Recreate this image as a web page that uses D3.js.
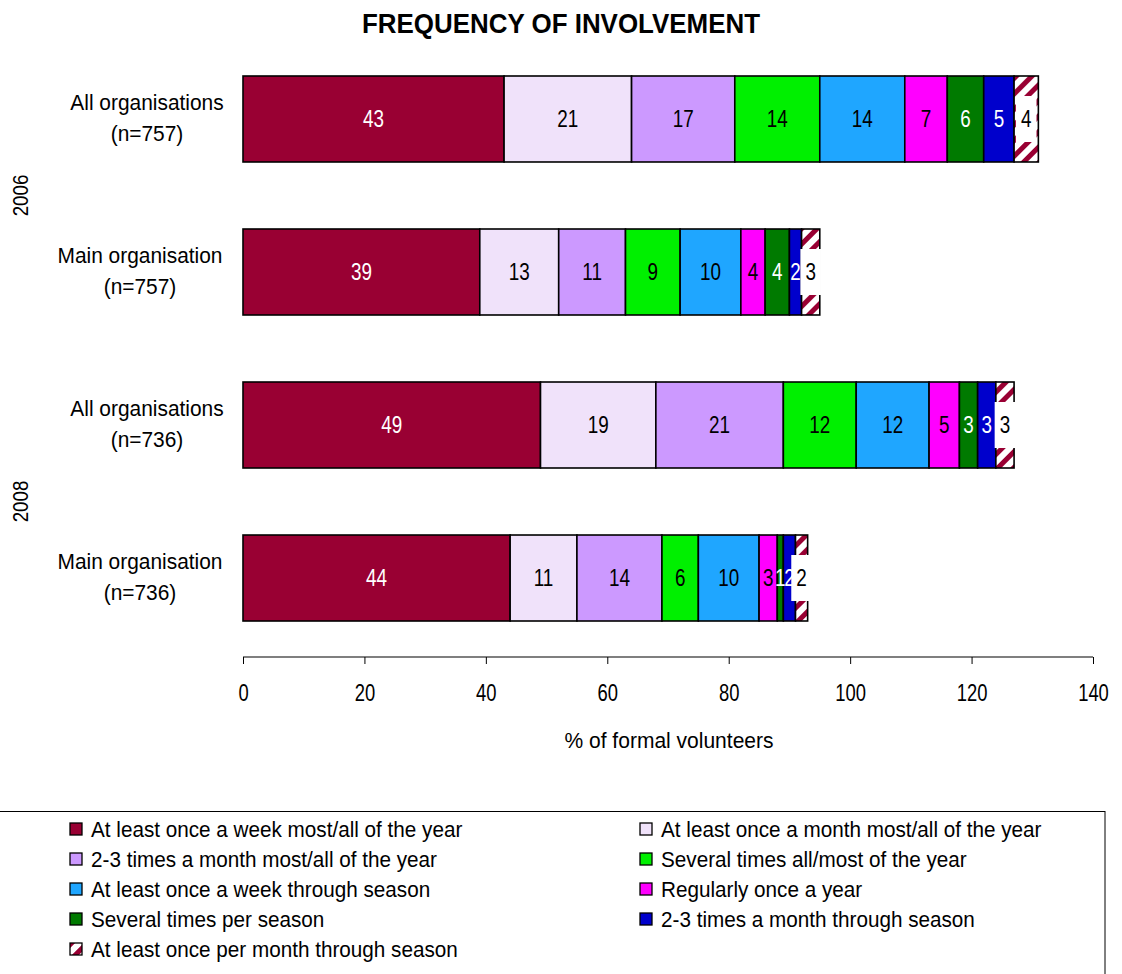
<!DOCTYPE html>
<html>
<head>
<meta charset="utf-8">
<script src="https://cdn.jsdelivr.net/npm/d3@7"></script>
<style>
  html, body { margin: 0; padding: 0; background: #fff; }
  svg { display: block; }
  text { font-family: "Liberation Sans", Arial, sans-serif; }
</style>
</head>
<body>
<svg id="chart" width="1122" height="974"></svg>
<script>
// Frequency of involvement in formal volunteering, stacked by category
const rows = ["r1", "r2", "r3", "r4"];
const rowLabels = [
  ["All organisations", "(n=757)"],
  ["Main organisation", "(n=757)"],
  ["All organisations", "(n=736)"],
  ["Main organisation", "(n=736)"]
];
const years = ["2006", "2008"];
const yearRows = [["r1", "r2"], ["r3", "r4"]];

const seriesNames = [
  "At least once a week most/all of the year",
  "At least once a month most/all of the year",
  "2-3 times a month most/all of the year",
  "Several times all/most of the year",
  "At least once a week through season",
  "Regularly once a year",
  "Several times per season",
  "2-3 times a month through season",
  "At least once per month through season"
];
const seriesColors = ["#990033", "#F0E2FA", "#CC99FF", "#00F000", "#1FA6FF", "#FF00FF", "#007A00", "#0000CC", "url(#hatch)"];
const labelColors = ["#fff", "#000", "#000", "#000", "#000", "#000", "#fff", "#fff", "#000"];

// values per series, one entry per row (r1..r4)
const s1 = [43, 39, 49, 44];
const s2 = [21, 13, 19, 11];
const s3 = [17, 11, 21, 14];
const s4 = [14, 9, 12, 6];
const s5 = [14, 10, 12, 10];
const s6 = [7, 4, 5, 3];
const s7 = [6, 4, 3, 1];
const s8 = [5, 2, 3, 2];
const s9 = [4, 3, 3, 2];
const seriesValues = [s1, s2, s3, s4, s5, s6, s7, s8, s9];

const xTicks = [0, 20, 40, 60, 80, 100, 120, 140];

const svg = d3.select("#chart");

// squeeze a text horizontally to mimic a narrow typeface
function narrow(sel, f) {
  sel.each(function () {
    const n = this.getComputedTextLength();
    if (n > 0) d3.select(this).attr("textLength", n * f).attr("lengthAdjust", "spacingAndGlyphs");
  });
}

// hatch pattern for the last series
const defs = svg.append("defs");
const pat = defs.append("pattern")
  .attr("id", "hatch")
  .attr("patternUnits", "userSpaceOnUse")
  .attr("width", 11).attr("height", 11)
  .attr("patternTransform", "rotate(45)");
pat.append("rect").attr("width", 11).attr("height", 11).attr("fill", "#fff");
pat.append("rect").attr("width", 5).attr("height", 11).attr("fill", "#990033");

const x = d3.scaleLinear().domain([0, 140]).range([243, 1093]);
const y = d3.scaleBand().domain(rows).range([76, 621]).paddingInner(0.438).paddingOuter(0);

// stacked data
const table = rows.map((r, i) => {
  const o = { row: r };
  seriesNames.forEach((s, k) => { o[s] = seriesValues[k][i]; });
  return o;
});
const stacked = d3.stack().keys(seriesNames)(table);

// title
svg.append("text")
  .attr("x", 561).attr("y", 33)
  .attr("text-anchor", "middle")
  .attr("font-size", 27).attr("font-weight", "bold")
  .text("FREQUENCY OF INVOLVEMENT")
  .call(narrow, 0.96);

// bars
const g = svg.append("g");
stacked.forEach((layer, k) => {
  g.selectAll(null).data(layer).enter().append("rect")
    .attr("x", d => x(d[0]))
    .attr("y", d => y(d.data.row))
    .attr("width", d => x(d[1]) - x(d[0]))
    .attr("height", y.bandwidth())
    .attr("fill", seriesColors[k])
    .attr("stroke", "#000").attr("stroke-width", 1.6);
});

// value labels
stacked.forEach((layer, k) => {
  layer.forEach(d => {
    const v = d[1] - d[0];
    const cx = (x(d[0]) + x(d[1])) / 2;
    const cy = y(d.data.row) + y.bandwidth() / 2;
    const t = g.append("text")
      .attr("x", cx).attr("y", cy + 8)
      .attr("text-anchor", "middle")
      .attr("font-size", 23)
      .attr("fill", labelColors[k])
      .text(v)
      .call(narrow, 0.82);
    if (k === seriesNames.length - 1) {
      const w = t.node().getComputedTextLength() * 0.82 + 12;
      g.insert("rect", function () { return t.node(); })
        .attr("x", cx - w / 2).attr("y", cy - 23)
        .attr("width", w).attr("height", 46)
        .attr("fill", "#fff");
    }
  });
});

// category labels
rows.forEach((r, i) => {
  const cy = y(r) + y.bandwidth() / 2;
  const cxLab = i % 2 === 0 ? 147 : 140;
  [0, 1].forEach(j => {
    svg.append("text")
      .attr("x", cxLab).attr("y", j === 0 ? cy - 9 : cy + 22)
      .attr("text-anchor", "middle")
      .attr("font-size", 22)
      .text(rowLabels[i][j])
      .call(narrow, 0.95);
  });
});

// year group labels
years.forEach((yr, i) => {
  const a = y(yearRows[i][0]), b = y(yearRows[i][1]) + y.bandwidth();
  const cy = (a + b) / 2;
  svg.append("text")
    .attr("transform", `translate(28,${cy}) rotate(-90)`)
    .attr("text-anchor", "middle")
    .attr("font-size", 22)
    .text(yr)
    .call(narrow, 0.85);
});

// x axis
const axis = svg.append("g")
  .attr("transform", "translate(0,657)")
  .call(d3.axisBottom(x).tickValues(xTicks).tickSize(7));
axis.select(".domain").attr("stroke", "#000").attr("stroke-width", 1.2).attr("d", `M${x(0)},0H${x(140)}`);
axis.selectAll(".tick line").attr("stroke", "#000").attr("stroke-width", 1);
axis.selectAll(".tick text")
  .attr("y", 44).attr("dy", null)
  .attr("font-size", 23)
  .attr("font-family", "Liberation Sans, Arial, sans-serif")
  .attr("fill", "#000")
  .call(narrow, 0.8);

svg.append("text")
  .attr("x", 669).attr("y", 748)
  .attr("text-anchor", "middle")
  .attr("font-size", 22)
  .text("% of formal volunteers")
  .call(narrow, 0.955);

// legend
svg.append("rect")
  .attr("x", -2).attr("y", 811.5)
  .attr("width", 1107).attr("height", 200)
  .attr("fill", "none").attr("stroke", "#000").attr("stroke-width", 1);

const legend = svg.append("g");
seriesNames.forEach((name, k) => {
  const col = k % 2, row = Math.floor(k / 2);
  const lx = col === 0 ? 70 : 640;
  const ly = 829 + row * 30;
  legend.append("rect")
    .attr("x", lx).attr("y", ly - 6)
    .attr("width", 12).attr("height", 12)
    .attr("fill", seriesColors[k])
    .attr("stroke", "#000").attr("stroke-width", 1.3);
  legend.append("text")
    .attr("x", lx + 21).attr("y", ly + 8)
    .attr("font-size", 22)
    .text(name)
    .call(narrow, 0.94);
});
</script>
</body>
</html>
